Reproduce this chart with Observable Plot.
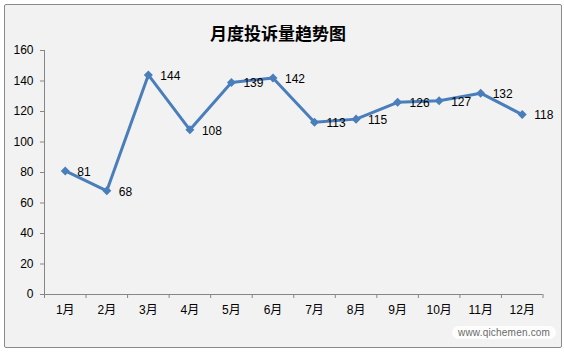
<!DOCTYPE html>
<html>
<head>
<meta charset="utf-8">
<script src="https://cdn.jsdelivr.net/npm/d3@7"></script>
<script src="https://cdn.jsdelivr.net/npm/@observablehq/plot@0.6"></script>
<style>
  html, body { margin: 0; padding: 0; background: #ffffff; }
  #wrap { position: relative; width: 564px; height: 352px; overflow: hidden;
    font-family: "Liberation Sans", "Noto Sans CJK SC", sans-serif; }
  #frame { position: absolute; left: 4px; top: 4px; width: 556px; height: 342px;
    border: 1px solid #8a8a8a; background: #f2f2f2; border-radius: 2px; }
  #title { position: absolute; left: 0; width: 556px; top: 20px; text-align: center;
    font-family: "Noto Sans CJK SC", sans-serif; font-weight: bold; font-size: 17px;
    color: #000; padding-left: 0; }
  #chart { position: absolute; left: 0; top: 0; }
  #wm { position: absolute; left: 452px; top: 326px; font-size: 10px; color: #6a6a6a;
    font-family: "Liberation Sans", sans-serif; letter-spacing: 0.2px;
    background: rgba(255,255,255,0.85); border-radius: 10px; padding: 1px 6px; }
</style>
</head>
<body>
<div id="wrap">
  <div id="frame"></div>
  <div id="title">月度投诉量趋势图</div>
  <div id="chart"></div>
  <div id="wm">www.qichemen.com</div>
</div>
<script>
const months = ["1月","2月","3月","4月","5月","6月","7月","8月","9月","10月","11月","12月"];
const values = [81, 68, 144, 108, 139, 142, 113, 115, 126, 127, 132, 118];
const yTicks = [0, 20, 40, 60, 80, 100, 120, 140, 160];

const data = months.map((m, i) => ({ idx: i + 1, month: m, value: values[i] }));
const labelTicks = months.map((m, i) => i + 1);
const boundaryTicks = d3.range(0, months.length + 1).map(k => k + 0.5);

const lineColor = "#4a7ebb";
const axisColor = "#868686";

const chart = Plot.plot({
  width: 564,
  height: 352,
  marginLeft: 44,
  marginRight: 21.5,
  marginTop: 50,
  marginBottom: 58,
  style: { background: "transparent", fontFamily: "'Liberation Sans', 'Noto Sans CJK SC', sans-serif", fontSize: "12px", color: "#000" },
  x: { type: "linear", domain: [0.5, months.length + 0.5] },
  y: { domain: [0, 160] },
  marks: [
    Plot.ruleY([0], { stroke: axisColor }),
    Plot.ruleX([0.5], { stroke: axisColor }),
    Plot.axisY({ ticks: yTicks, tickSize: 4, tickPadding: 7, stroke: axisColor, fill: "#000", label: null, fontSize: 12 }),
    Plot.axisX({ ticks: boundaryTicks, tickSize: 4, tickFormat: () => "", stroke: axisColor, label: null }),
    Plot.axisX({ ticks: labelTicks, tickSize: 0, tickPadding: 11, tickFormat: d => months[d - 1], fill: "#000", label: null, fontSize: 12 }),
    Plot.line(data, { x: "idx", y: "value", stroke: lineColor, strokeWidth: 3 }),
    Plot.dot(data, { x: "idx", y: "value", symbol: "square", r: 3.6, rotate: 45, fill: lineColor, stroke: "none" }),
    Plot.text(data, { x: "idx", y: "value", text: d => String(d.value), dx: 12, dy: 1, textAnchor: "start", fontSize: 12, fill: "#000" })
  ]
});
document.getElementById("chart").appendChild(chart);
</script>
</body>
</html>
